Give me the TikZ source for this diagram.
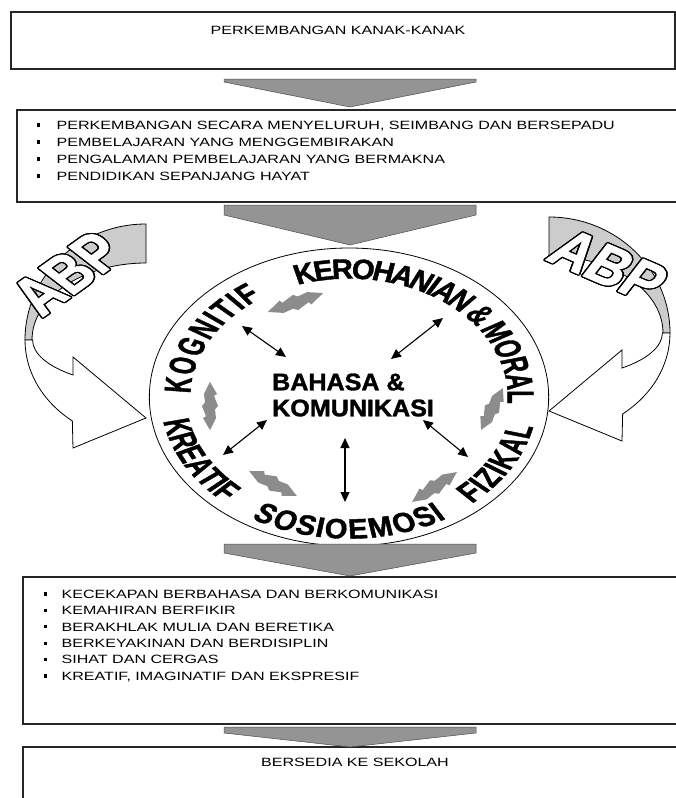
\documentclass[tikz,border=0pt]{standalone}
\usepackage{fontspec}
\setmainfont{Liberation Sans}
\newfontfamily\boxfont[FakeStretch=1.34]{Liberation Sans}
\newfontfamily\impactfont[FakeStretch=0.78, BoldFeatures={FakeBold=1.3}]{Liberation Sans}
\usepackage{contour}
\contourlength{1.2pt}
\usetikzlibrary{arrows.meta}
\newcommand{\sqbullet}{\rule[2.7pt]{3.2pt}{3.2pt}}

\begin{document}
\begin{tikzpicture}[x=1pt, y=1pt,
    box/.style={draw=black!85, line width=1.1pt},
    chevron/.style={fill=black!42, draw=black!70, line width=0.5pt},
    link/.style={{Triangle[length=10pt,width=9pt]}-{Triangle[length=10pt,width=9pt]}, line width=1.1pt},
    boxtext/.style={font=\boxfont\fontsize{12}{17}\selectfont, inner sep=0pt, align=left},
    ringletter/.style={font=\impactfont\bfseries\fontsize{28}{28}\selectfont, inner sep=0pt, transform shape},
    abp/.style={font=\impactfont\bfseries\fontsize{54}{54}\selectfont, inner sep=0pt, xscale=1.34, transform shape},
    bolt/.pic={\fill[black!45] (-28,0) -- (-14,7) -- (-12,4) -- (0,8) -- (4,5) -- (14,6) -- (28,0)
        -- (14,-7) -- (12,-4) -- (0,-8) -- (-4,-5) -- (-14,-6) -- cycle;},
    abparrow/.pic={
        \draw[fill=black!20, line width=0.8pt] (146,-224) arc[start angle=90, end angle=180, x radius=121, y radius=116]
            -- (32,-340) arc[start angle=180, end angle=90, x radius=114, y radius=77] -- cycle;
        \draw[fill=white, line width=0.8pt] (25,-340) arc[start angle=180, end angle=232.5, x radius=121, y radius=102]
            -- (73,-448) -- (146,-418) -- (73,-357) -- (73,-375)
            arc[start angle=229.8, end angle=180, x radius=114, y radius=46] -- cycle;}]
  \path[use as bounding box, fill=white] (0,0) rectangle (676,-798);

  % boxes
  \node[box, minimum width=664pt, minimum height=57pt] (top) at (343,-40.5) {};
  \node[box, minimum width=673pt, minimum height=92pt] (aims) at (353.5,-156) {};
  \node[box, minimum width=667pt, minimum height=147pt] (outcome) at (356.5,-650.5) {};
  \node[box, minimum width=667pt, minimum height=73pt] (ready) at (356.5,-783.5) {};

  \node[boxtext, anchor=base] (toptext) at (338,-34) {PERKEMBANGAN KANAK-KANAK};
  \node[boxtext, anchor=north west] (aimstext) at (36.4,-120.7)
    {\makebox[20pt][l]{\sqbullet}PERKEMBANGAN SECARA MENYELURUH, SEIMBANG DAN BERSEPADU\\
     \makebox[20pt][l]{\sqbullet}PEMBELAJARAN YANG MENGGEMBIRAKAN\\
     \makebox[20pt][l]{\sqbullet}PENGALAMAN PEMBELAJARAN YANG BERMAKNA\\
     \makebox[20pt][l]{\sqbullet}PENDIDIKAN SEPANJANG HAYAT};
  \node[boxtext, font=\boxfont\fontsize{12}{16.4}\selectfont, anchor=north west] (outcometext) at (43.4,-589.7)
    {\makebox[18pt][l]{\sqbullet}KECEKAPAN BERBAHASA DAN BERKOMUNIKASI\\
     \makebox[18pt][l]{\sqbullet}KEMAHIRAN BERFIKIR\\
     \makebox[18pt][l]{\sqbullet}BERAKHLAK MULIA DAN BERETIKA\\
     \makebox[18pt][l]{\sqbullet}BERKEYAKINAN DAN BERDISIPLIN\\
     \makebox[18pt][l]{\sqbullet}SIHAT DAN CERGAS\\
     \makebox[18pt][l]{\sqbullet}KREATIF, IMAGINATIF DAN EKSPRESIF};
  \node[boxtext, anchor=base] (readytext) at (355,-766.3) {BERSEDIA KE SEKOLAH};

  % ABP arrows
  \pic at (0,0) {abparrow};
  \pic[xscale=-1] at (695,7) {abparrow};
  \node[abp, rotate=44] (abpL) at (68,-274) {\textcolor{white}{\contour{black}{ABP}}};
  \node[abp, rotate=-30] (abpR) at (608,-266) {\textcolor{white}{\contour{black}{ABP}}};

  % ring
  \begin{scope}[shift={(349,-397)}, xscale=1.34]
    \draw[line width=0.8pt, fill=white] (0,0) circle[radius=149];
    \node[font=\impactfont\bfseries\fontsize{24}{26}\selectfont, transform shape, align=left,
          anchor=west, inner sep=0pt] (centre) at (-57.5,2) {BAHASA \&\\KOMUNIKASI};
    % labels, clockwise
    \foreach \ch/\c [count=\i] in {K/0.361,O/1.111,G/1.889,N/2.639,I/3.139,T/3.584,I/4.028,F/4.473}
      {\pgfmathsetmacro\ang{174.5-48*(\c-0.361)/4.112}
       \pgfmathsetmacro\rot{\ang-90}
       \node[ringletter, rotate=\rot] (kog\i) at (\ang:128) {\ch};}
    \foreach \ch/\ang [count=\i] in {K/105,E/98.6,R/92.2,O/85.2,H/78.3,A/71.6,N/64.9,I/60.3,A/55.7,N/49,
        \&/40,M/30.5,O/22.2,R/14.5,A/7,L/0}
      {\pgfmathsetmacro\rot{\ang-90}
       \node[ringletter, rotate=\rot] (ker\i) at (\ang:128) {\ch};}
    % labels, anticlockwise
    \foreach \ch/\c [count=\i] in {F/0.306,I/0.75,Z/1.195,I/1.639,K/2.139,A/2.861,L/3.528}
      {\pgfmathsetmacro\ang{-46.6+31.6*(\c-0.306)/3.222}
       \pgfmathsetmacro\rot{\ang+90}
       \node[ringletter, rotate=\rot] (fiz\i) at (\ang:131) {\ch};}
    \foreach \ch/\c [count=\i] in {S/0.334,O/1.056,S/1.779,I/2.251,O/2.779,E/3.502,M/4.252,O/5.057,S/5.78,I/6.252}
      {\pgfmathsetmacro\ang{-118+57.7*(\c-0.334)/5.918}
       \pgfmathsetmacro\rot{\ang+90}
       \node[ringletter, rotate=\rot] (sos\i) at (\ang:132) {\ch};}
    \foreach \ch/\c [count=\i] in {K/0.361,R/1.083,E/1.778,A/2.472,T/3.139,I/3.583,F/4.028}
      {\pgfmathsetmacro\ang{-166.9+32.7*(\c-0.361)/3.667}
       \pgfmathsetmacro\rot{\ang+90}
       \node[ringletter, rotate=\rot] (kre\i) at (\ang:131) {\ch};}
  \end{scope}

  % chevrons
  \draw[chevron] (224,-79) -- (476,-79) -- (476,-82) -- (350,-107) -- (224,-82) -- cycle;
  \draw[chevron] (224,-205) -- (476,-205) -- (476,-215) -- (350,-245) -- (224,-215) -- cycle;
  \draw[chevron] (224,-544) -- (476,-544) -- (476,-553) -- (350,-576) -- (224,-553) -- cycle;
  \draw[chevron] (224,-727) -- (476,-727) -- (476,-733) -- (350,-747) -- (224,-733) -- cycle;

  % grey links round the ring
  \pic[rotate=19, xscale=1.04] at (295.5,-302.5) {bolt};
  \pic[rotate=90, xscale=0.86] at (210,-406) {bolt};
  \pic[rotate=-27.5, xscale=0.96] at (273,-483.5) {bolt};
  \pic[rotate=33.7, xscale=0.96] at (434.5,-487) {bolt};
  \pic[rotate=62.4, xscale=0.84] at (492,-409) {bolt};

  % black links to the centre
  \coordinate (kogA) at (242,-326);  \coordinate (kogB) at (286,-357);
  \coordinate (kerA) at (443,-318);  \coordinate (kerB) at (391,-359);
  \coordinate (kreA) at (267,-420);  \coordinate (kreB) at (223,-455);
  \coordinate (fizA) at (423,-420);  \coordinate (fizB) at (468,-457);
  \coordinate (sosA) at (345,-438);  \coordinate (sosB) at (345,-502);
  \draw[link] (kogA) -- (kogB);
  \draw[link] (kerA) -- (kerB);
  \draw[link] (kreA) -- (kreB);
  \draw[link] (fizA) -- (fizB);
  \draw[link] (sosA) -- (sosB);
\end{tikzpicture}
\end{document}
